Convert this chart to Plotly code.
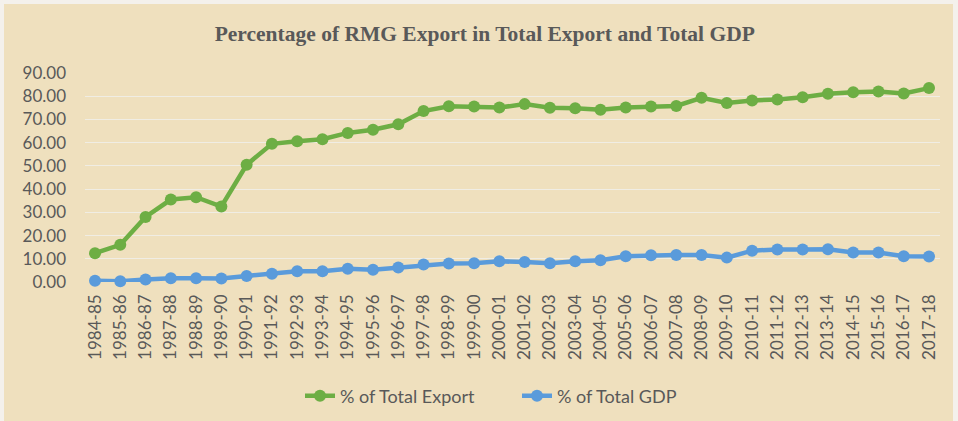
import plotly.graph_objects as go

years = ["1984-85","1985-86","1986-87","1987-88","1988-89","1989-90","1990-91","1991-92",
         "1992-93","1993-94","1994-95","1995-96","1996-97","1997-98","1998-99","1999-00",
         "2000-01","2001-02","2002-03","2003-04","2004-05","2005-06","2006-07","2007-08",
         "2008-09","2009-10","2010-11","2011-12","2012-13","2013-14","2014-15","2015-16",
         "2016-17","2017-18"]
pct_export = [12.4, 16.0, 28.0, 35.5, 36.5, 32.5, 50.5, 59.5, 60.6, 61.5, 64.2, 65.6, 67.9,
              73.6, 75.7, 75.6, 75.1, 76.6, 75.0, 74.8, 74.2, 75.1, 75.6, 75.8, 79.3, 77.1,
              78.2, 78.6, 79.6, 81.1, 81.7, 82.0, 81.2, 83.5]
pct_gdp = [0.5, 0.3, 1.1, 1.6, 1.6, 1.5, 2.6, 3.6, 4.6, 4.6, 5.7, 5.3, 6.2, 7.5, 8.0, 8.1,
           8.9, 8.6, 8.1, 8.9, 9.4, 11.1, 11.5, 11.6, 11.6, 10.5, 13.5, 14.0, 14.0, 14.1,
           12.7, 12.7, 11.1, 11.0]
y_ticks = [0, 10, 20, 30, 40, 50, 60, 70, 80, 90]

W, H = 958, 421
L, R, T, B = 85, 18, 73, 139
pw, ph = W - L - R, H - T - B

def px_x(p):
    return (p - L) / pw

def px_y(p):
    return (H - B - p) / ph

fig = go.Figure()
fig.add_trace(go.Scatter(x=years, y=pct_export, name="% of Total Export", mode="lines+markers",
                         line=dict(color="#6DAE44", width=4.5), marker=dict(size=12, color="#6DAE44"),
                         cliponaxis=False))
fig.add_trace(go.Scatter(x=years, y=pct_gdp, name="% of Total GDP", mode="lines+markers",
                         line=dict(color="#5A9BDB", width=4.5), marker=dict(size=12, color="#5A9BDB"),
                         cliponaxis=False))

fig.add_shape(type="rect", xref="paper", yref="paper", layer="below",
              x0=px_x(4), x1=px_x(953), y0=px_y(421), y1=px_y(4),
              fillcolor="#EFE0BE", line=dict(width=0))

fig.update_layout(
    width=W, height=H,
    margin=dict(l=L, r=R, t=T, b=B, autoexpand=False),
    paper_bgcolor="#F4F1EC",
    plot_bgcolor="rgba(0,0,0,0)",
    title=dict(text="<b>Percentage of RMG Export in Total Export and Total GDP</b>",
               x=0.506, xanchor="center", y=1 - 33 / H, yanchor="middle",
               font=dict(family="Liberation Serif", size=21.5, color="#595959"),
               automargin=False),
    showlegend=True,
    legend=dict(orientation="h", x=px_x(300), xanchor="left", y=px_y(396), yanchor="middle",
                font=dict(family="Lato", size=18, color="#595959"),
                entrywidth=172, entrywidthmode="pixels",
                bgcolor="rgba(0,0,0,0)", traceorder="normal"),
    font=dict(family="Lato", color="#595959"),
)
fig.update_xaxes(type="category", range=[-0.396, 33.435], tickangle=-90,
                 showgrid=False, showline=False, ticks="", automargin=False,
                 ticklabelstandoff=8,
                 tickfont=dict(family="Lato", size=17, color="#595959"))
fig.update_yaxes(range=[0, 90], tickvals=y_ticks, ticktext=[f"{v:.2f}" for v in y_ticks],
                 showgrid=True, gridcolor="rgba(240,238,232,0.9)", gridwidth=1,
                 zeroline=False, showline=False, ticks="", automargin=False,
                 ticklabelstandoff=18,
                 tickfont=dict(family="Lato", size=17, color="#595959"))

fig.write_html("out.html", config={"displayModeBar": False},
               post_script="document.body.style.margin='0px';document.body.style.overflow='hidden';")
